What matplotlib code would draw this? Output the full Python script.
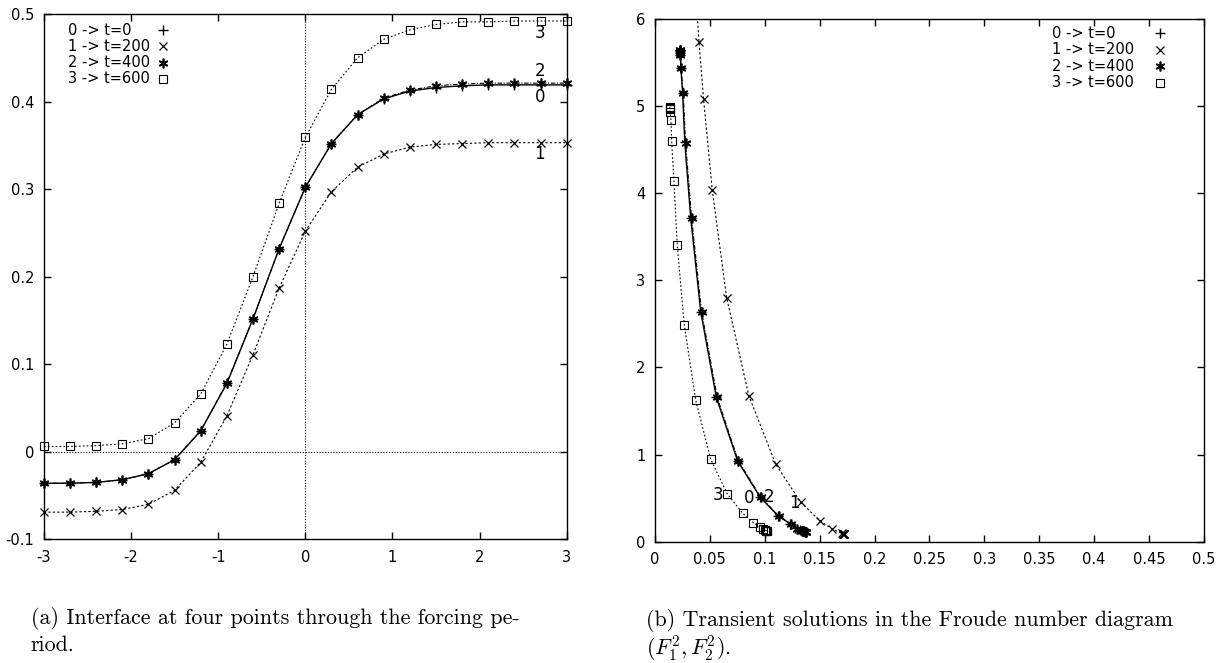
import matplotlib
matplotlib.use("Agg")
import matplotlib.pyplot as plt

# ---- panel (a): interface position vs x ----
x_a = [-3.0, -2.7, -2.4, -2.1, -1.8, -1.5, -1.2, -0.9, -0.6, -0.3, 0.0,
       0.3, 0.6, 0.9, 1.2, 1.5, 1.8, 2.1, 2.4, 2.7, 3.0]
eta_t0 = [-0.036, -0.036, -0.035, -0.032, -0.025, -0.009, 0.024, 0.078, 0.152, 0.232, 0.302,
          0.352, 0.385, 0.403, 0.412, 0.416, 0.418, 0.419, 0.419, 0.419, 0.419]
eta_t200 = [-0.069, -0.069, -0.068, -0.066, -0.060, -0.044, -0.012, 0.041, 0.111, 0.187, 0.252,
            0.297, 0.325, 0.340, 0.348, 0.351, 0.352, 0.353, 0.353, 0.353, 0.353]
eta_t400 = [-0.036, -0.036, -0.035, -0.032, -0.025, -0.009, 0.024, 0.079, 0.152, 0.232, 0.302,
            0.352, 0.385, 0.404, 0.413, 0.418, 0.420, 0.421, 0.421, 0.421, 0.421]
eta_t600 = [0.006, 0.006, 0.007, 0.009, 0.015, 0.033, 0.066, 0.123, 0.200, 0.284, 0.359,
            0.414, 0.450, 0.471, 0.482, 0.488, 0.491, 0.491, 0.492, 0.492, 0.492]

# ---- panel (b): Froude number diagram (F1^2, F2^2) ----
F1_t0 = [0.0228, 0.0228, 0.0229, 0.0230, 0.0232, 0.0236, 0.0252, 0.0272, 0.0326, 0.0417, 0.0559,
         0.0752, 0.0958, 0.1122, 0.1232, 0.1280, 0.1318, 0.1335, 0.1345, 0.1350, 0.1352]
F2_t0 = [5.64, 5.64, 5.63, 5.61, 5.58, 5.44, 5.15, 4.58, 3.71, 2.64, 1.656,
         0.930, 0.510, 0.296, 0.205, 0.155, 0.135, 0.126, 0.122, 0.120, 0.120]
F1_t200 = [0.0355, 0.0355, 0.0356, 0.0358, 0.0363, 0.0375, 0.0401, 0.0443, 0.0522, 0.0653, 0.0855,
           0.1100, 0.1327, 0.1500, 0.1615, 0.1700, 0.1710, 0.1715, 0.1720, 0.1720, 0.1720]
F2_t200 = [6.72, 6.72, 6.70, 6.66, 6.55, 6.25, 5.736, 5.075, 4.035, 2.799, 1.675,
           0.888, 0.455, 0.241, 0.146, 0.096, 0.092, 0.090, 0.089, 0.089, 0.089]
F1_t400 = [0.0228, 0.0228, 0.0229, 0.0230, 0.0232, 0.0237, 0.0258, 0.0279, 0.0334, 0.0425, 0.0567,
           0.0759, 0.0965, 0.1129, 0.1240, 0.1290, 0.1336, 0.1360, 0.1370, 0.1375, 0.1380]
F2_t400 = [5.64, 5.64, 5.63, 5.61, 5.58, 5.438, 5.144, 4.577, 3.710, 2.639, 1.656,
           0.929, 0.509, 0.295, 0.203, 0.146, 0.126, 0.118, 0.115, 0.114, 0.113]
F1_t600 = [0.0137, 0.0137, 0.0137, 0.0138, 0.0146, 0.0152, 0.0173, 0.0203, 0.0267, 0.0371, 0.0507,
           0.0659, 0.0799, 0.0896, 0.0956, 0.0985, 0.1000, 0.1012, 0.1017, 0.1020, 0.1020]
F2_t600 = [4.99, 4.98, 4.96, 4.93, 4.838, 4.600, 4.138, 3.404, 2.486, 1.624, 0.949,
           0.547, 0.326, 0.218, 0.172, 0.148, 0.134, 0.128, 0.125, 0.123, 0.123]

legend_labels = ["0 -> t=0", "1 -> t=200", "2 -> t=400", "3 -> t=600"]

xticks_a = [-3, -2, -1, 0, 1, 2, 3]
xticklabels_a = ["-3", "-2", "-1", "0", "1", "2", "3"]
yticks_a = [-0.1, 0.0, 0.1, 0.2, 0.3, 0.4, 0.5]
yticklabels_a = ["-0.1", "0", "0.1", "0.2", "0.3", "0.4", "0.5"]
xticks_b = [0, 0.05, 0.1, 0.15, 0.2, 0.25, 0.3, 0.35, 0.4, 0.45, 0.5]
xticklabels_b = ["0", "0.05", "0.1", "0.15", "0.2", "0.25", "0.3", "0.35", "0.4", "0.45", "0.5"]
yticks_b = [0, 1, 2, 3, 4, 5, 6]
yticklabels_b = ["0", "1", "2", "3", "4", "5", "6"]

caption_a = ["(a) Interface at four points through the forcing pe-", "riod."]
caption_b = ["(b) Transient solutions in the Froude number diagram", r"$(F_1^2, F_2^2)$."]

plt.rcParams["font.family"] = "DejaVu Sans"
plt.rcParams["mathtext.fontset"] = "cm"
TICK_FS = 10.5

star = (6, 2, 0)
styles = [
    dict(ls="-", lw=1.0, marker="+", ms=7, mew=1.0),
    dict(ls=(0, (2, 2)), lw=0.8, marker="x", ms=6, mew=0.9),
    dict(ls=(0, (4, 1.5, 1, 1.5)), lw=0.8, marker=star, ms=7, mew=1.2),
    dict(ls=(0, (1.5, 2)), lw=0.8, marker="s", ms=5.5, mew=0.8, mfc="none"),
]

fig = plt.figure(figsize=(12.21, 6.63), dpi=100)
ax_a = fig.add_axes([0.0360, 0.1866, 0.4281, 0.7923])
ax_b = fig.add_axes([0.5364, 0.1830, 0.4496, 0.7888])


def style_axes(ax, xt, xtl, yt, ytl):
    ax.set_xticks(xt, xtl)
    ax.set_yticks(yt, ytl)
    ax.tick_params(direction="in", top=True, right=True, length=5, width=1.0,
                   labelsize=TICK_FS, color="black")
    ax.tick_params(axis="x", pad=7.5)
    ax.tick_params(axis="y", pad=7)
    for s in ax.spines.values():
        s.set_linewidth(1.0)


def add_key(ax, x_text, x_mark, y_top, dy):
    # gnuplot-style key: left-justified text, point sample to the right
    for i, (lab, st) in enumerate(zip(legend_labels, styles)):
        yy = y_top - i * dy
        ax.text(x_text, yy, lab, transform=ax.transAxes, va="center", ha="left",
                fontsize=TICK_FS)
        ax.plot([x_mark], [yy], transform=ax.transAxes, color="black", ls="none",
                marker=st["marker"], ms=st["ms"], mew=st["mew"],
                mfc=st.get("mfc", "black"), clip_on=False)


# panel (a)
ax_a.axhline(0, color="black", lw=0.8, ls=(0, (1, 1.5)), zorder=1)
ax_a.axvline(0, color="black", lw=0.8, ls=(0, (1, 1.5)), zorder=1)
for ys, st in zip([eta_t0, eta_t200, eta_t400, eta_t600], styles):
    ax_a.plot(x_a, ys, color="black", clip_on=False, **st)
ax_a.set_xlim(-3, 3)
ax_a.set_ylim(-0.1, 0.5)
style_axes(ax_a, xticks_a, xticklabels_a, yticks_a, yticklabels_a)
for lab, yy in zip(["3", "2", "0", "1"], [0.478, 0.435, 0.405, 0.340]):
    ax_a.text(2.69, yy, lab, ha="center", va="center", fontsize=12)
add_key(ax_a, 0.0465, 0.2282, 0.9695, 0.0310)

# panel (b)
ax_b.axhline(0, color="black", lw=0.8, ls=(0, (1, 1.5)), zorder=3)
for xs, ys, st in zip([F1_t0, F1_t200, F1_t400, F1_t600],
                      [F2_t0, F2_t200, F2_t400, F2_t600], styles):
    ax_b.plot(xs, ys, color="black", **st)
ax_b.set_xlim(0, 0.5)
ax_b.set_ylim(0, 6)
style_axes(ax_b, xticks_b, xticklabels_b, yticks_b, yticklabels_b)
for lab, xx, yy in zip(["3", "0", "2", "1"], [0.0577, 0.0859, 0.1041, 0.1269],
                       [0.536, 0.498, 0.509, 0.447]):
    ax_b.text(xx, yy, lab, ha="center", va="center", fontsize=12)
add_key(ax_b, 0.7226, 0.9199, 0.9721, 0.0315)

# captions (Computer Modern), first lines fitted to the measured width
W, H = 1221.0, 663.0
cap_specs = [(caption_a, 30.6, 488.0, 618, 645), (caption_b, 646.0, 533.0, 620, 648)]
texts = []
for lines, x0, width, y1, y2 in cap_specs:
    t1 = fig.text(x0 / W, 1 - y1 / H, lines[0], family="cmr10", fontsize=14, va="center")
    t2 = fig.text(x0 / W, 1 - y2 / H, lines[1], family="cmr10", fontsize=14, va="center")
    texts.append((t1, t2, width))
fig.canvas.draw()
r = fig.canvas.get_renderer()
sizes = [14 * w / t1.get_window_extent(r).width for t1, t2, w in texts]
fs = min(sizes)
for t1, t2, w in texts:
    t1.set_fontsize(fs)
    t2.set_fontsize(fs)

fig.savefig("out.png", dpi=100)
